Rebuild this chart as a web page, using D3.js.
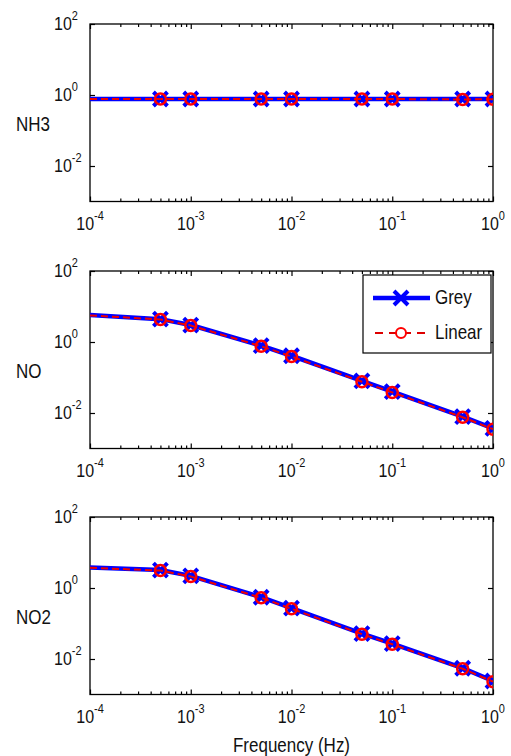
<!doctype html>
<html lang="en">
<head>
  <meta charset="utf-8">
  <script src="https://cdn.jsdelivr.net/npm/d3@7"></script>
  <title>Grey vs Linear</title>
  <style>
    body { margin: 0; background: #fff; }
    text { font-family: "Liberation Sans", Arial, sans-serif; fill: #111; }
  </style>
</head>
<body>
  <svg id="chart" width="511" height="756"></svg>
  <script>
    // data
    var freqs = [1e-4, 5e-4, 1e-3, 5e-3, 1e-2, 5e-2, 1e-1, 5e-1, 1];
    var species = ["NH3", "NO", "NO2"];
    var greyNH3 = [0.77, 0.77, 0.77, 0.77, 0.77, 0.77, 0.77, 0.77, 0.77];
    var linearNH3 = [0.77, 0.77, 0.77, 0.77, 0.77, 0.77, 0.77, 0.75, 0.76];
    var greyNO = [5.8, 4.4, 3.0, 0.79, 0.41, 0.080, 0.040, 0.0079, 0.0037];
    var linearNO = [5.6, 4.3, 2.9, 0.76, 0.39, 0.076, 0.038, 0.0076, 0.0035];
    var greyNO2 = [3.8, 3.2, 2.2, 0.55, 0.27, 0.052, 0.027, 0.0055, 0.0024];
    var linearNO2 = [3.7, 3.1, 2.1, 0.53, 0.26, 0.050, 0.026, 0.0053, 0.0023];
    var xTicks = [1e-4, 1e-3, 1e-2, 1e-1, 1];
    var xTickExp = ["-4", "-3", "-2", "-1", "0"];
    var yTicks = [1e-2, 1, 1e2];
    var yTickExp = ["-2", "0", "2"];
    var seriesNames = ["Grey", "Linear"];

    var grey = [greyNH3, greyNO, greyNO2];
    var linear = [linearNH3, linearNO, linearNO2];

    var svg = d3.select("#chart");
    var left = 90, right = 493, panelH = 177.5;
    var tops = [24, 271, 517];
    var sy = 1.2; // the source text is a bit tall

    var x = d3.scaleLog().domain([1e-4, 1]).range([left, right]);

    var minors = [];
    for (var e = -4; e < 0; e++) {
      for (var m = 2; m < 10; m++) minors.push(m * Math.pow(10, e));
    }

    function label(g, px, py, base, sup, anchor, size) {
      var t = g.append("g")
          .attr("transform", "translate(" + px + "," + py + ") scale(1," + sy + ")")
        .append("text")
          .attr("text-anchor", anchor)
          .style("font-size", size + "px");
      t.append("tspan").text(base);
      if (sup != null) {
        t.append("tspan").attr("dy", -8).style("font-size", "11px").text(sup);
      }
      return t;
    }

    var xMark = "M-7,-7L7,7M-7,7L7,-7";

    species.forEach(function(name, i) {
      var top = tops[i], bottom = top + panelH;
      var y = d3.scaleLog().domain([1e-3, 1e2]).range([bottom, top]);
      var g = svg.append("g");

      g.append("clipPath").attr("id", "clip" + i)
        .append("rect")
          .attr("x", left).attr("y", top)
          .attr("width", right - left).attr("height", panelH);

      // ticks (inside, on all four sides)
      g.append("g").attr("transform", "translate(0," + bottom + ")")
        .call(d3.axisBottom(x).tickValues(xTicks).tickSize(-5).tickFormat(""));
      g.append("g").attr("transform", "translate(0," + bottom + ")")
        .call(d3.axisBottom(x).tickValues(minors).tickSize(-3).tickFormat(""));
      g.append("g").attr("transform", "translate(0," + top + ")")
        .call(d3.axisTop(x).tickValues(xTicks).tickSize(-5).tickFormat(""));
      g.append("g").attr("transform", "translate(0," + top + ")")
        .call(d3.axisTop(x).tickValues(minors).tickSize(-3).tickFormat(""));
      g.append("g").attr("transform", "translate(" + left + ",0)")
        .call(d3.axisLeft(y).tickValues(yTicks).tickSize(-5).tickFormat(""));
      g.append("g").attr("transform", "translate(" + right + ",0)")
        .call(d3.axisRight(y).tickValues(yTicks).tickSize(-5).tickFormat(""));
      g.selectAll(".domain").remove();
      g.selectAll(".tick line").attr("stroke", "#000").attr("stroke-width", 1.2);

      g.append("rect")
          .attr("x", left).attr("y", top)
          .attr("width", right - left).attr("height", panelH)
          .attr("fill", "none").attr("stroke", "#000").attr("stroke-width", 1.3);

      // tick labels
      xTicks.forEach(function(v, k) {
        label(g, x(v), bottom + 28, "10", xTickExp[k], "middle", 16);
      });
      yTicks.forEach(function(v, k) {
        label(g, 54, y(v) + 6, "10", yTickExp[k], "start", 16);
      });
      label(g, 16, top + panelH / 2 + 18, name, null, "start", 17);

      var line = d3.line()
          .x(function(d, k) { return x(freqs[k]); })
          .y(function(d) { return y(d); });

      var plot = g.append("g").attr("clip-path", "url(#clip" + i + ")");

      // Grey: blue solid with x markers
      plot.append("path").datum(grey[i])
          .attr("d", line)
          .attr("fill", "none").attr("stroke", "#0000ff").attr("stroke-width", 4.5);
      plot.selectAll(".xm").data(grey[i].slice(1)).enter()
        .append("path")
          .attr("class", "xm")
          .attr("transform", function(d, k) { return "translate(" + x(freqs[k + 1]) + "," + y(d) + ")"; })
          .attr("d", xMark)
          .attr("stroke", "#0000ff").attr("stroke-width", 4).attr("fill", "none");

      // Linear: red dashed with circles
      plot.append("path").datum(linear[i])
          .attr("d", line)
          .attr("fill", "none").attr("stroke", "#ee0000").attr("stroke-width", 2)
          .attr("stroke-dasharray", "7,4");
      plot.selectAll(".om").data(linear[i].slice(1)).enter()
        .append("circle")
          .attr("class", "om")
          .attr("cx", function(d, k) { return x(freqs[k + 1]); })
          .attr("cy", function(d) { return y(d); })
          .attr("r", 5.5)
          .attr("fill", "none").attr("stroke", "#ff0000").attr("stroke-width", 2.5);

      if (i === 0) {
        label(g, (left + right) / 2, 752, "Frequency (Hz)", null, "middle", 17);
      }

      // legend in the NO panel
      if (i === 1) {
        var lg = g.append("g").attr("transform", "translate(363,275)");
        lg.append("rect").attr("width", 128).attr("height", 78)
          .attr("fill", "#fff").attr("stroke", "#000").attr("stroke-width", 1.2);
        lg.append("line").attr("x1", 10).attr("x2", 67).attr("y1", 23).attr("y2", 23)
          .attr("stroke", "#0000ff").attr("stroke-width", 4.5);
        lg.append("path").attr("transform", "translate(38,23)")
          .attr("d", xMark)
          .attr("stroke", "#0000ff").attr("stroke-width", 4);
        lg.append("line").attr("x1", 12).attr("x2", 67).attr("y1", 58).attr("y2", 58)
          .attr("stroke", "#dd0000").attr("stroke-width", 2).attr("stroke-dasharray", "8,6");
        lg.append("circle").attr("cx", 38).attr("cy", 58).attr("r", 5)
          .attr("fill", "#fff").attr("stroke", "#ff0000").attr("stroke-width", 2);
        label(lg, 72, 29, seriesNames[0], null, "start", 17);
        label(lg, 72, 64, seriesNames[1], null, "start", 17);
      }
    });
  </script>
</body>
</html>
